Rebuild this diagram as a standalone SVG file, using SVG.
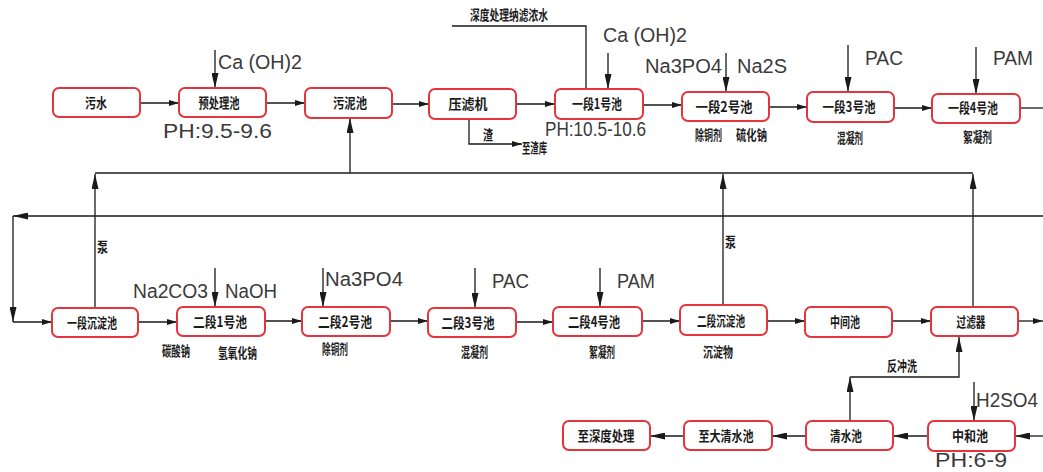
<svg xmlns="http://www.w3.org/2000/svg" width="1043" height="472" viewBox="0 0 1043 472">
<defs>
<style>
.box{fill:#fff;stroke:#e3363c;stroke-width:2}
.lbl{font-family:"Noto Sans CJK SC","Noto Sans CJK TC",sans-serif;font-weight:700;font-size:14px;fill:#1a1a1a;text-anchor:middle}
.chem{font-family:"Liberation Sans",sans-serif;font-size:20px;fill:#3a3a3a}
.note{font-family:"Noto Sans CJK SC","Noto Sans CJK TC",sans-serif;font-weight:700;font-size:14px;fill:#1a1a1a}
.ln{fill:none;stroke:#1a1a1a;stroke-width:1.3}
</style>
<marker id="a" markerUnits="userSpaceOnUse" markerWidth="10" markerHeight="6" refX="10" refY="3" orient="auto"><path d="M0,0 L10,3 L0,6 z" fill="#1a1a1a"/></marker>
<marker id="b" markerUnits="userSpaceOnUse" markerWidth="15" markerHeight="7" refX="15" refY="3.5" orient="auto"><path d="M0,0 L15,3.5 L0,7 z" fill="#1a1a1a"/></marker>
</defs>
<rect width="1043" height="472" fill="#fff"/>

<g id="connectors">
<path class="ln" marker-end="url(#a)" d="M140,103 H179"/>
<path class="ln" marker-end="url(#a)" d="M266,103 H305"/>
<path class="ln" marker-end="url(#a)" d="M392,104 H429"/>
<path class="ln" marker-end="url(#a)" d="M516,104 H555"/>
<path class="ln" marker-end="url(#a)" d="M643,105 H682"/>
<path class="ln" marker-end="url(#a)" d="M769,107 H807"/>
<path class="ln" marker-end="url(#a)" d="M894,108 H932"/>
<path class="ln" d="M1020,108 H1043"/>
<path class="ln" marker-end="url(#b)" d="M215,50 V88"/>
<path class="ln" marker-end="url(#b)" d="M608,53 V89"/>
<path class="ln" marker-end="url(#b)" d="M726,53 V92"/>
<path class="ln" marker-end="url(#b)" d="M848,45 V92"/>
<path class="ln" marker-end="url(#b)" d="M976,47 V94"/>
<path class="ln" d="M452,26 H586 V89"/>
<path class="ln" marker-end="url(#a)" d="M469,119 V144 H522"/>
<path class="ln" d="M95,173 H973"/>
<path class="ln" marker-end="url(#b)" d="M95,308 V174"/>
<path class="ln" marker-end="url(#b)" d="M350,173 V118"/>
<path class="ln" marker-end="url(#b)" d="M723,305 V174"/>
<path class="ln" marker-end="url(#b)" d="M973,307 V174"/>
<path class="ln" marker-end="url(#b)" d="M1043,216 H13"/>
<path class="ln" marker-end="url(#b)" d="M13,216 V322"/>
<path class="ln" marker-end="url(#a)" d="M13,322 H52"/>
<path class="ln" marker-end="url(#a)" d="M138,322 H177"/>
<path class="ln" marker-end="url(#a)" d="M265,321 H302"/>
<path class="ln" marker-end="url(#a)" d="M390,321 H428"/>
<path class="ln" marker-end="url(#a)" d="M516,322 H553"/>
<path class="ln" marker-end="url(#a)" d="M642,321 H680"/>
<path class="ln" marker-end="url(#a)" d="M767,321 H805"/>
<path class="ln" marker-end="url(#a)" d="M892,321 H931"/>
<path class="ln" marker-end="url(#a)" d="M1018,321 H1043"/>
<path class="ln" marker-end="url(#b)" d="M215,268 V307"/>
<path class="ln" marker-end="url(#b)" d="M323,268 V307"/>
<path class="ln" marker-end="url(#b)" d="M475,268 V308"/>
<path class="ln" marker-end="url(#b)" d="M600,268 V307"/>
<path class="ln" marker-end="url(#b)" d="M1043,436 H1015"/>
<path class="ln" marker-end="url(#b)" d="M928,436 H893"/>
<path class="ln" marker-end="url(#b)" d="M806,436 H772"/>
<path class="ln" marker-end="url(#b)" d="M684,436 H650"/>
<path class="ln" marker-end="url(#b)" d="M850,421 V377"/>
<path class="ln" marker-end="url(#b)" d="M850,377 H959 V337"/>
<path class="ln" marker-end="url(#b)" d="M974,382 V421"/>
</g>

<g id="n1"><rect class="box" x="53" y="88" width="87" height="29" rx="6"/><text class="lbl" x="96" y="108" textLength="22" lengthAdjust="spacingAndGlyphs">污水</text></g>
<g id="n2"><rect class="box" x="179" y="88" width="87" height="29" rx="6"/><text class="lbl" x="219" y="108" textLength="41" lengthAdjust="spacingAndGlyphs">预处理池</text></g>
<g id="n3"><rect class="box" x="305" y="88" width="87" height="30" rx="6"/><text class="lbl" x="350" y="108" textLength="34" lengthAdjust="spacingAndGlyphs">污泥池</text></g>
<g id="n4"><rect class="box" x="429" y="89" width="87" height="30" rx="6"/><text class="lbl" x="468" y="109" textLength="39" lengthAdjust="spacingAndGlyphs">压滤机</text></g>
<g id="n5"><rect class="box" x="555" y="89" width="88" height="30" rx="6"/><text class="lbl" x="597" y="109" textLength="50" lengthAdjust="spacingAndGlyphs">一段1号池</text></g>
<g id="n6"><rect class="box" x="682" y="92" width="87" height="29" rx="6"/><text class="lbl" x="724" y="112" textLength="57" lengthAdjust="spacingAndGlyphs">一段2号池</text></g>
<g id="n7"><rect class="box" x="807" y="92" width="87" height="30" rx="6"/><text class="lbl" x="849" y="112" textLength="53" lengthAdjust="spacingAndGlyphs">一段3号池</text></g>
<g id="n8"><rect class="box" x="932" y="94" width="88" height="29" rx="6"/><text class="lbl" x="973" y="113" textLength="50" lengthAdjust="spacingAndGlyphs">一段4号池</text></g>

<g id="m1"><rect class="box" x="52" y="308" width="86" height="29" rx="6"/><text class="lbl" x="92" y="328" textLength="50" lengthAdjust="spacingAndGlyphs">一段沉淀池</text></g>
<g id="m2"><rect class="box" x="177" y="307" width="88" height="29" rx="6"/><text class="lbl" x="220" y="327" textLength="54" lengthAdjust="spacingAndGlyphs">二段1号池</text></g>
<g id="m3"><rect class="box" x="302" y="307" width="88" height="29" rx="6"/><text class="lbl" x="345" y="327" textLength="54" lengthAdjust="spacingAndGlyphs">二段2号池</text></g>
<g id="m4"><rect class="box" x="428" y="308" width="88" height="29" rx="6"/><text class="lbl" x="468" y="328" textLength="53" lengthAdjust="spacingAndGlyphs">二段3号池</text></g>
<g id="m5"><rect class="box" x="553" y="307" width="89" height="29" rx="6"/><text class="lbl" x="594" y="327" textLength="52" lengthAdjust="spacingAndGlyphs">二段4号池</text></g>
<g id="m6"><rect class="box" x="680" y="305" width="87" height="30" rx="6"/><text class="lbl" x="721" y="326" textLength="48" lengthAdjust="spacingAndGlyphs">二段沉淀池</text></g>
<g id="m7"><rect class="box" x="805" y="307" width="87" height="30" rx="6"/><text class="lbl" x="845" y="327" textLength="30" lengthAdjust="spacingAndGlyphs">中间池</text></g>
<g id="m8"><rect class="box" x="931" y="307" width="87" height="29" rx="6"/><text class="lbl" x="971" y="327" textLength="29" lengthAdjust="spacingAndGlyphs">过滤器</text></g>

<g id="k1"><rect class="box" x="563" y="421" width="87" height="29" rx="6"/><text class="lbl" x="606" y="441" textLength="57" lengthAdjust="spacingAndGlyphs">至深度处理</text></g>
<g id="k2"><rect class="box" x="684" y="421" width="88" height="29" rx="6"/><text class="lbl" x="726" y="441" textLength="55" lengthAdjust="spacingAndGlyphs">至大清水池</text></g>
<g id="k3"><rect class="box" x="806" y="421" width="87" height="29" rx="6"/><text class="lbl" x="846" y="441" textLength="32" lengthAdjust="spacingAndGlyphs">清水池</text></g>
<g id="k4"><rect class="box" x="928" y="421" width="87" height="30" rx="6"/><text class="lbl" x="970" y="441" textLength="36" lengthAdjust="spacingAndGlyphs">中和池</text></g>

<g id="labels">
<text class="chem" x="218" y="69" textLength="84" lengthAdjust="spacingAndGlyphs">Ca (OH)2</text>
<text class="chem" x="163" y="138" textLength="109" lengthAdjust="spacingAndGlyphs">PH:9.5-9.6</text>
<text class="chem" x="603" y="42" textLength="84" lengthAdjust="spacingAndGlyphs">Ca (OH)2</text>
<text class="chem" x="545" y="136" textLength="101" lengthAdjust="spacingAndGlyphs">PH:10.5-10.6</text>
<text class="chem" x="645" y="73" textLength="77" lengthAdjust="spacingAndGlyphs">Na3PO4</text>
<text class="chem" x="737" y="73" textLength="50" lengthAdjust="spacingAndGlyphs">Na2S</text>
<text class="chem" x="865" y="65" textLength="38" lengthAdjust="spacingAndGlyphs">PAC</text>
<text class="chem" x="993" y="65" textLength="40" lengthAdjust="spacingAndGlyphs">PAM</text>
<text class="chem" x="133" y="298" textLength="75" lengthAdjust="spacingAndGlyphs">Na2CO3</text>
<text class="chem" x="225" y="298" textLength="52" lengthAdjust="spacingAndGlyphs">NaOH</text>
<text class="chem" x="325" y="286" textLength="78" lengthAdjust="spacingAndGlyphs">Na3PO4</text>
<text class="chem" x="492" y="288" textLength="37" lengthAdjust="spacingAndGlyphs">PAC</text>
<text class="chem" x="617" y="288" textLength="38" lengthAdjust="spacingAndGlyphs">PAM</text>
<text class="chem" x="976" y="407" textLength="62" lengthAdjust="spacingAndGlyphs">H2SO4</text>
<text class="chem" x="935" y="467" textLength="72" lengthAdjust="spacingAndGlyphs" style="font-size:21px">PH:6-9</text>
<text class="note" x="470" y="20" textLength="78" lengthAdjust="spacingAndGlyphs">深度处理纳滤浓水</text>
<text class="note" x="483" y="140" textLength="10" lengthAdjust="spacingAndGlyphs">渣</text>
<text class="note" x="522" y="153" textLength="25" lengthAdjust="spacingAndGlyphs">至渣库</text>
<text class="note" x="695" y="140" textLength="27" lengthAdjust="spacingAndGlyphs">除铜剂</text>
<text class="note" x="736" y="140" textLength="31" lengthAdjust="spacingAndGlyphs">硫化钠</text>
<text class="note" x="837" y="143" textLength="26" lengthAdjust="spacingAndGlyphs">混凝剂</text>
<text class="note" x="963" y="142" textLength="29" lengthAdjust="spacingAndGlyphs">絮凝剂</text>
<text class="note" x="97" y="252" textLength="11" lengthAdjust="spacingAndGlyphs">泵</text>
<text class="note" x="725" y="247" textLength="11" lengthAdjust="spacingAndGlyphs">泵</text>
<text class="note" x="162" y="356" textLength="28" lengthAdjust="spacingAndGlyphs">碳酸钠</text>
<text class="note" x="218" y="358" textLength="39" lengthAdjust="spacingAndGlyphs">氢氧化钠</text>
<text class="note" x="322" y="354" textLength="26" lengthAdjust="spacingAndGlyphs">除铜剂</text>
<text class="note" x="461" y="357" textLength="27" lengthAdjust="spacingAndGlyphs">混凝剂</text>
<text class="note" x="589" y="357" textLength="26" lengthAdjust="spacingAndGlyphs">絮凝剂</text>
<text class="note" x="703" y="357" textLength="30" lengthAdjust="spacingAndGlyphs">沉淀物</text>
<text class="note" x="887" y="371" textLength="30" lengthAdjust="spacingAndGlyphs">反冲洗</text>
</g>
</svg>
